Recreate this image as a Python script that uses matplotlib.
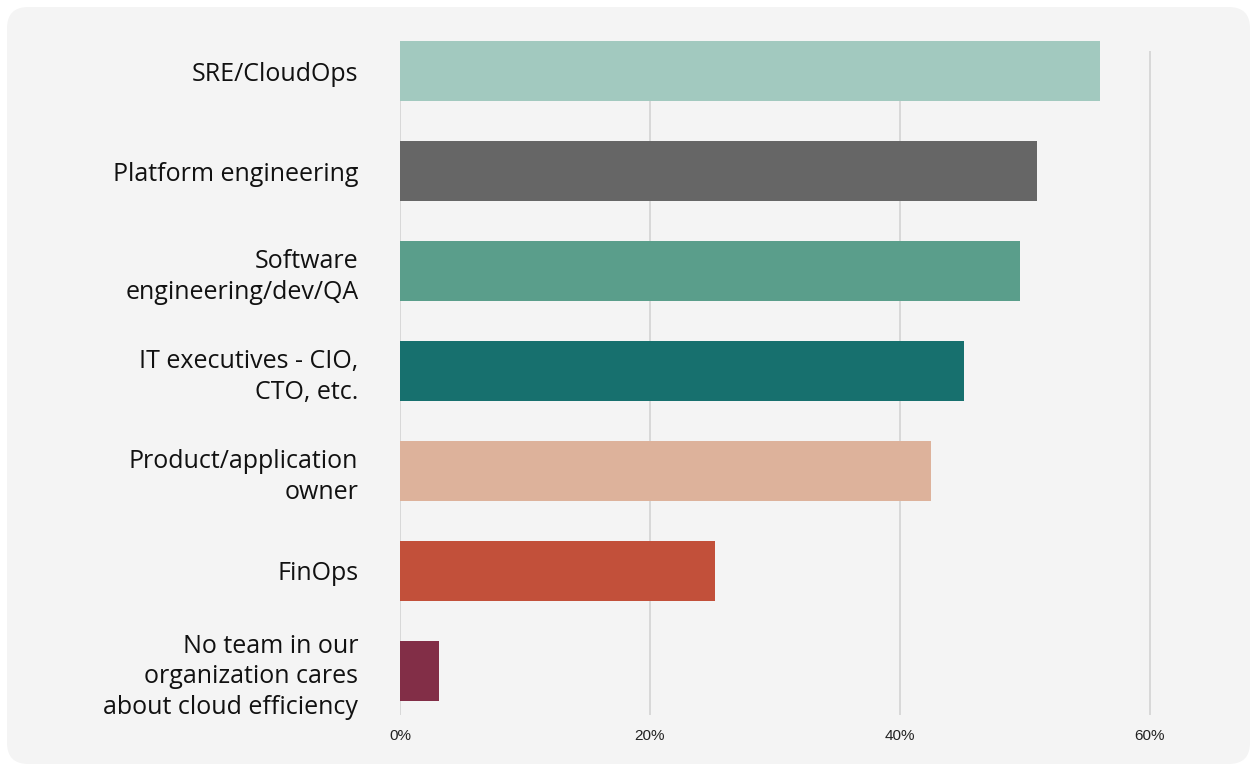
import matplotlib.pyplot as plt
from matplotlib.patches import FancyBboxPatch

# Teams that care about cloud efficiency (% of respondents)
teams = [
    'SRE/CloudOps',
    'Platform engineering',
    'Software\nengineering/dev/QA',
    'IT executives - CIO,\nCTO, etc.',
    'Product/application\nowner',
    'FinOps',
    'No team in our\norganization cares\nabout cloud efficiency',
]
shares = [56.0, 51.0, 49.6, 45.1, 42.5, 25.2, 3.1]
colors = ['#a2c9bf', '#666666', '#5a9e8b', '#17706e', '#ddb29b', '#c2503a', '#822e47']
ticks = [0, 20, 40, 60]

fig = plt.figure(figsize=(12.51, 7.66), dpi=100)
fig.patch.set_facecolor('white')

# rounded light-grey card behind the chart
card = FancyBboxPatch((7 / 1251, 2 / 766), 1243 / 1251, 757 / 766,
                      boxstyle='round,pad=0,rounding_size=0.017',
                      transform=fig.transFigure, facecolor='#f4f4f4',
                      edgecolor='none', mutation_aspect=1251 / 766, zorder=-5)
fig.patches.append(card)

ax = fig.add_axes([400 / 1251, 51 / 766, 830 / 1251, 674 / 766])
ax.set_facecolor('none')

y = list(range(len(teams)))
ax.vlines(ticks, -0.2, 6.44, colors='#d3d3d3', linewidth=1.2, zorder=0)
ax.barh(y, shares, height=0.6, color=colors, zorder=2)

ax.set_xlim(0, 66.4)
ax.set_ylim(6.44, -0.3)
ax.set_yticks(y)
ax.set_yticklabels(teams, fontsize=18, family='Open Sans', linespacing=1.3,
                   color='#111111')
ax.set_xticks(ticks)
ax.set_xticklabels([f'{t}%' for t in ticks], fontsize=11,
                   family='Liberation Sans', color='#222222')
ax.tick_params(axis='y', length=0, pad=30)
ax.tick_params(axis='x', length=0, pad=10)
for s in ax.spines.values():
    s.set_visible(False)

fig.savefig('out.png', dpi=100)
